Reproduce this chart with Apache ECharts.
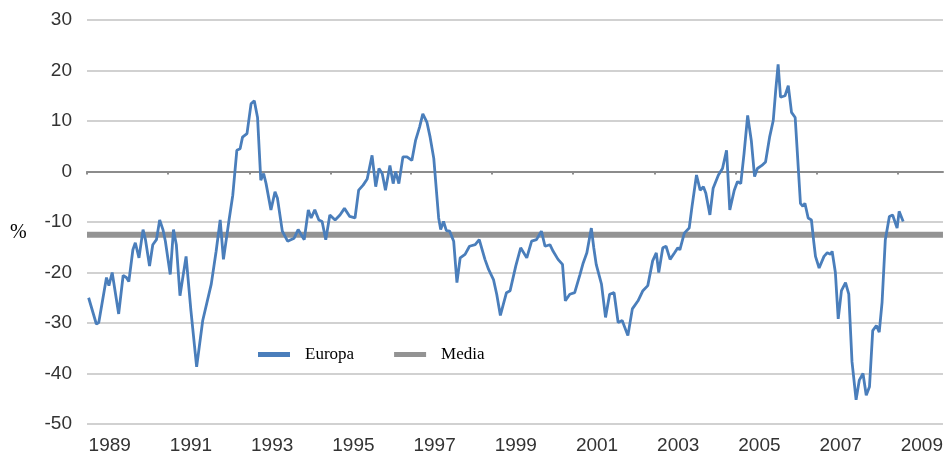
<!DOCTYPE html>
<html>
<head>
<meta charset="utf-8">
<script src="https://cdn.jsdelivr.net/npm/echarts@6/dist/echarts.min.js"></script>
<style>
  html, body { margin: 0; padding: 0; background: #fff; }
  #chart { width: 946px; height: 455px; }
</style>
</head>
<body>
<div id="chart"></div>
<script>
// dates as decimal years
const years = [
  1988.48, 1988.67, 1988.73, 1988.92, 1988.98, 1989.06, 1989.22, 1989.33, 1989.41, 1989.47,
  1989.57, 1989.63, 1989.72, 1989.82, 1989.88, 1989.98, 1990.06, 1990.15, 1990.23, 1990.31,
  1990.37, 1990.49, 1990.57, 1990.64, 1990.73, 1990.88, 1991.00, 1991.14, 1991.29, 1991.50,
  1991.62, 1991.72, 1991.80, 1991.94, 1992.03, 1992.13, 1992.21, 1992.27, 1992.38, 1992.48,
  1992.56, 1992.64, 1992.72, 1992.79, 1992.85, 1992.97, 1993.07, 1993.13, 1993.25, 1993.38,
  1993.54, 1993.64, 1993.79, 1993.89, 1993.96, 1994.05, 1994.15, 1994.23, 1994.32, 1994.42,
  1994.55, 1994.67, 1994.78, 1994.91, 1995.04, 1995.13, 1995.24, 1995.34, 1995.46, 1995.55,
  1995.63, 1995.71, 1995.79, 1995.90, 1995.98, 1996.04, 1996.12, 1996.22, 1996.32, 1996.44,
  1996.53, 1996.63, 1996.71, 1996.81, 1996.89, 1996.98, 1997.10, 1997.15, 1997.22, 1997.29,
  1997.37, 1997.47, 1997.55, 1997.63, 1997.75, 1997.86, 1998.00, 1998.10, 1998.24, 1998.33,
  1998.45, 1998.53, 1998.62, 1998.77, 1998.86, 1999.00, 1999.12, 1999.27, 1999.39, 1999.51,
  1999.63, 1999.72, 1999.84, 1999.92, 2000.04, 2000.15, 2000.22, 2000.33, 2000.45, 2000.58,
  2000.66, 2000.75, 2000.86, 2000.92, 2000.98, 2001.11, 2001.21, 2001.31, 2001.42, 2001.52,
  2001.62, 2001.76, 2001.87, 2002.01, 2002.13, 2002.25, 2002.37, 2002.46, 2002.52, 2002.62,
  2002.70, 2002.80, 2002.91, 2002.99, 2003.04, 2003.15, 2003.27, 2003.34, 2003.45, 2003.54,
  2003.62, 2003.68, 2003.78, 2003.86, 2003.99, 2004.09, 2004.19, 2004.27, 2004.38, 2004.46,
  2004.54, 2004.62, 2004.71, 2004.80, 2004.88, 2004.95, 2005.06, 2005.15, 2005.25, 2005.34,
  2005.40, 2005.46, 2005.52, 2005.63, 2005.71, 2005.79, 2005.88, 2005.93, 2006.01, 2006.07,
  2006.12, 2006.20, 2006.28, 2006.34, 2006.38, 2006.47, 2006.59, 2006.67, 2006.75, 2006.79,
  2006.87, 2006.94, 2007.02, 2007.12, 2007.20, 2007.28, 2007.38, 2007.46, 2007.55, 2007.63,
  2007.71, 2007.79, 2007.88, 2007.95, 2008.02, 2008.10, 2008.20, 2008.28, 2008.39, 2008.44,
  2008.54
]

const europa = [
  -25, -30.2, -29.9, -21, -22.6, -20, -28.2, -20.6, -21, -21.8,
  -15.5, -14.1, -17.1, -11.5, -13.5, -18.7, -14.5, -13.5, -9.6, -11.5,
  -13.8, -20.4, -11.5, -14.5, -24.6, -16.8, -27.6, -38.7, -29.5, -22.3,
  -15.8, -9.6, -17.4, -9.5, -4.7, 4.2, 4.5, 6.8, 7.5, 13.4,
  14, 10.7, -1.7, -0.4, -2.4, -7.6, -4, -5.3, -11.8, -13.8,
  -13.2, -11.5, -13.5, -7.6, -9.2, -7.6, -9.6, -9.9, -13.5, -8.6,
  -9.6, -8.6, -7.3, -8.9, -9.2, -3.7, -2.7, -1.5, 3.2, -3,
  0.6, -0.4, -3.7, 1.2, -2.4, 0, -2.4, 2.9, 2.9, 2.2,
  6.1, 8.8, 11.4, 9.8, 6.8, 2.6, -9.2, -11.5, -9.9, -11.7,
  -11.8, -13.8, -22, -17.1, -16.4, -14.8, -14.5, -13.5, -17.4, -19.4,
  -21.4, -24.3, -28.5, -24, -23.6, -18.7, -15.1, -17.1, -13.8, -13.5,
  -11.8, -14.8, -14.5, -15.8, -17.4, -18.4, -25.6, -24.3, -24, -20.4,
  -18.1, -16.1, -11.2, -15.1, -18.4, -22.3, -28.9, -24.3, -24, -29.9,
  -29.5, -32.5, -27.2, -25.6, -23.6, -22.6, -17.7, -16.1, -20, -15.1,
  -14.8, -17.4, -16.1, -15.1, -15.5, -12.2, -11.2, -6.9, -0.7, -3.7,
  -3, -4.3, -8.6, -3.3, -0.7, 0.6, 4.2, -7.6, -3.7, -2,
  -2.4, 3.5, 11.1, 6.1, -1, 0.6, 1.2, 1.9, 6.8, 10.1,
  16, 21.2, 14.7, 15, 17, 11.7, 10.7, 4.2, -6.3, -6.9,
  -6.3, -9.2, -9.6, -14.1, -16.8, -19.1, -16.8, -16.1, -16.4, -15.8,
  -20, -29.2, -23.6, -22, -24.3, -37.7, -45.2, -41.3, -40, -44.3,
  -42.6, -31.5, -30.5, -31.8, -25.9, -13.5, -8.9, -8.6, -11.2, -7.9,
  -9.9
]

const media = -12.5

const yearLabels = [1989, 1991, 1993, 1995, 1997, 1999, 2001, 2003, 2005, 2007, 2009]
// little marks on the zero line sit between the labels
const zeroTicks = [1988.44, 1990.42, 1992.44, 1994.45, 1996.41, 1998.40, 2000.41, 2002.42, 2004.41, 2006.40, 2008.41]

const xMin = 1988.44
const xMax = 2009.52

const chart = echarts.init(document.getElementById('chart'))

const labelFont = 'Liberation Sans, Arial, sans-serif'
const serifFont = 'Liberation Serif, Times New Roman, serif'

chart.setOption({
  animation: false,
  grid: { left: 87, right: 0, top: 20, bottom: 27.5 },
  legend: {
    data: ['Europa', 'Media'],
    left: 253,
    top: 341,
    icon: 'rect',
    itemWidth: 32,
    itemHeight: 5,
    itemGap: 40,
    textStyle: { fontFamily: serifFont, fontSize: 17, color: '#000', padding: [0, 0, 0, 10] }
  },
  graphic: [
    {
      type: 'text',
      left: 10,
      top: 223,
      style: { text: '%', font: '20px "Liberation Serif", serif', fill: '#000' }
    }
  ],
  xAxis: [
    {
      type: 'value',
      min: xMin,
      max: xMax,
      axisLine: { show: false, onZero: false },
      axisTick: { show: false },
      splitLine: { show: false },
      axisLabel: {
        customValues: yearLabels,
        formatter: v => String(v),
        fontFamily: labelFont,
        fontSize: 19,
        color: '#333',
        margin: 12
      }
    },
    {
      type: 'value',
      position: 'top',
      min: xMin,
      max: xMax,
      axisLine: { show: true, onZero: true, lineStyle: { color: '#8c8c8c', width: 2 } },
      axisTick: { show: true, inside: true, length: 3, customValues: zeroTicks, lineStyle: { color: '#8c8c8c', width: 2 } },
      axisLabel: { show: false },
      splitLine: { show: false }
    }
  ],
  yAxis: {
    type: 'value',
    min: -50,
    max: 30,
    interval: 10,
    axisLine: { show: false },
    axisTick: { show: false },
    axisLabel: { fontFamily: labelFont, fontSize: 19, color: '#333', margin: 15 },
    splitLine: { lineStyle: { color: '#c2c2c2', width: 1.5 } }
  },
  series: [
    {
      name: 'Media',
      type: 'line',
      data: [[xMin, media], [xMax, media]],
      symbol: 'none',
      silent: true,
      color: '#939393',
      lineStyle: { color: '#939393', width: 6 },
      z: 2
    },
    {
      name: 'Europa',
      type: 'line',
      data: years.map((y, i) => [y, europa[i]]),
      symbol: 'none',
      color: '#4a7ebb',
      lineStyle: { color: '#4a7ebb', width: 2.8 },
      z: 3
    }
  ]
})
</script>
</body>
</html>
